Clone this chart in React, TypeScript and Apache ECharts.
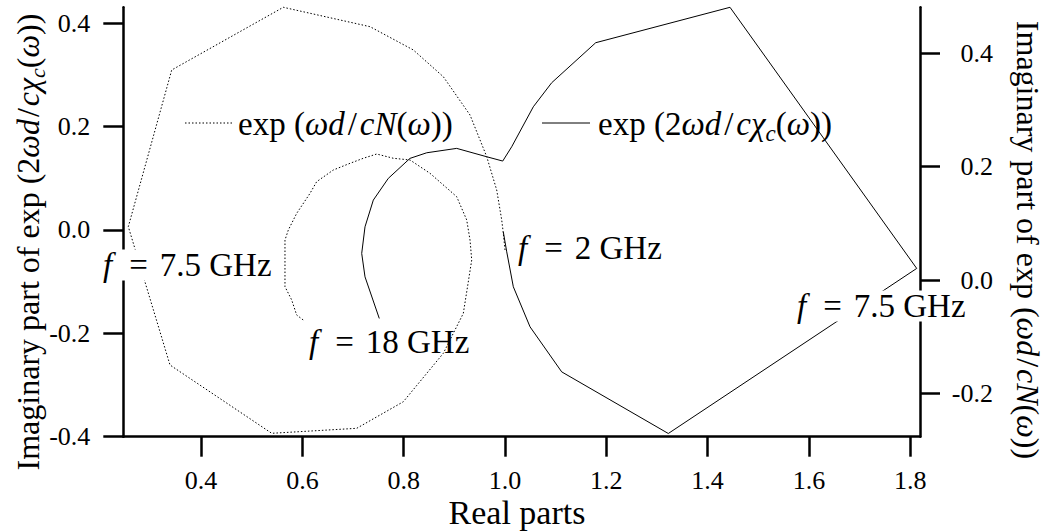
import React, { useEffect, useRef } from "react";
import * as echarts from "echarts";

// ---- data ----
// solid curve: exp(2ωd/cχc(ω)), left axis, from f = 2 GHz to f = 18 GHz
const solidX = [0.9966, 1.0034, 1.0164, 1.0494, 1.1119, 1.3224, 1.8128, 1.4442, 1.1791, 1.0922, 1.0559, 1.0132, 0.9955, 0.9639, 0.9046, 0.8454, 0.8124, 0.7696, 0.74, 0.7236, 0.7171, 0.7236, 0.7518];
const solidY = [-0.0037, -0.0424, -0.11, -0.1875, -0.2746, -0.3938, -0.0745, 0.4306, 0.3621, 0.2847, 0.2382, 0.1608, 0.1332, 0.1415, 0.1577, 0.1492, 0.1384, 0.0997, 0.0577, 0.006, -0.0455, -0.0908, -0.1713];
// dotted curve: exp(ωd/cN(ω)), right axis, from f = 2 GHz to f = 18 GHz
const dottedX = [1.0, 0.9966, 0.9935, 0.9836, 0.9639, 0.9309, 0.8782, 0.819, 0.7335, 0.5623, 0.342, 0.2563, 0.3386, 0.5394, 0.7072, 0.7992, 0.8782, 0.9177, 0.9343, 0.9309, 0.9244, 0.9046, 0.8519, 0.8124, 0.7795, 0.7467, 0.7203, 0.694, 0.661, 0.6282, 0.615, 0.5887, 0.5722, 0.5656, 0.5656, 0.5789, 0.5887, 0.6017];
const dottedY = [0.0529, 0.0829, 0.1059, 0.1588, 0.2176, 0.2912, 0.3587, 0.4059, 0.447, 0.4812, 0.3706, 0.0941, -0.15, -0.2705, -0.2617, -0.2148, -0.1293, -0.0588, 0.0353, 0.0706, 0.1059, 0.147, 0.1883, 0.2118, 0.2148, 0.2223, 0.2148, 0.2059, 0.1941, 0.1735, 0.1529, 0.1176, 0.0882, 0.0706, -0.0118, -0.0353, -0.0618, -0.0706];

const xTicks = [0.4, 0.6, 0.8, 1.0, 1.2, 1.4, 1.6, 1.8];
const leftTicks = [-0.4, -0.2, 0, 0.2, 0.4];
const rightTicks = [-0.2, 0, 0.2, 0.4];

const F = '"Liberation Serif", "Times New Roman", serif';

const richBase = (size: number, slashPad: number, eqPad: number, fPad: number, lh: number) => ({
  n: { fontFamily: F, fontSize: size, color: "#000", lineHeight: lh },
  i: { fontFamily: F, fontSize: size, color: "#000", fontStyle: "italic", lineHeight: lh },
  f: { fontFamily: F, fontSize: size, color: "#000", fontStyle: "italic", lineHeight: lh, padding: [0, fPad, 0, 0] },
  sl: { fontFamily: F, fontSize: size, color: "#000", lineHeight: lh, padding: [0, slashPad, 0, slashPad] },
  e: { fontFamily: F, fontSize: size, color: "#000", lineHeight: lh, padding: [0, eqPad, 0, eqPad] },
  s: { fontFamily: F, fontSize: Math.round(size * 0.7), color: "#000", fontStyle: "italic", verticalAlign: "bottom", lineHeight: Math.round(size * 0.7) },
});

export default function App() {
  const ref = useRef<HTMLDivElement>(null);
  useEffect(() => {
    if (!ref.current) return;
    const chart = echarts.init(ref.current, null, { renderer: "svg" });
    const fmt = (v: number) => (Math.abs(v) < 1e-9 ? "0.0" : v.toFixed(1));
    const axisLine = { show: true, onZero: false, lineStyle: { color: "#000", width: 2.5 } };
    const tick = (vals: number[]) => ({ show: true, inside: false, length: 20, lineStyle: { color: "#000", width: 2.5 }, customValues: vals });
    const titleRich = richBase(32, 2, 6, 3, 40);
    const legendRich = richBase(33, 3, 6, 3, 41);
    const noteRich = richBase(33, 2, 12, 5, 31);
    const noteStyle = (text: string, bg: boolean) => ({
      text,
      rich: noteRich,
      align: "left",
      verticalAlign: "middle",
      ...(bg ? { backgroundColor: "#fff", padding: [0, 2, 0, 0] } : {}),
    });
    chart.setOption({
      animation: false,
      grid: { left: 123.3, right: 128, top: 7.3, bottom: 94.3, containLabel: false },
      xAxis: {
        type: "value",
        min: 0.2464,
        max: 1.8193,
        axisLine,
        axisTick: tick(xTicks),
        axisLabel: { customValues: xTicks, formatter: fmt, fontFamily: F, fontSize: 26, color: "#000", margin: 31 },
        splitLine: { show: false },
      },
      yAxis: [
        {
          type: "value",
          position: "left",
          min: -0.4,
          max: 0.4306,
          axisLine,
          axisTick: tick(leftTicks),
          axisLabel: { customValues: leftTicks, formatter: fmt, fontFamily: F, fontSize: 26, color: "#000", margin: 33 },
          splitLine: { show: false },
        },
        {
          type: "value",
          position: "right",
          min: -0.2765,
          max: 0.4812,
          axisLine,
          axisTick: tick(rightTicks),
          axisLabel: { customValues: rightTicks, formatter: fmt, fontFamily: F, fontSize: 26, color: "#000", margin: 73, align: "right" },
          splitLine: { show: false },
        },
      ],
      series: [
        {
          name: "solid",
          type: "line",
          yAxisIndex: 0,
          symbol: "none",
          clip: false,
          data: solidX.map((x, i) => [x, solidY[i]]),
          lineStyle: { color: "#000", width: 1 },
          z: 2,
        },
        {
          name: "dotted",
          type: "line",
          yAxisIndex: 1,
          symbol: "none",
          clip: false,
          data: dottedX.map((x, i) => [x, dottedY[i]]),
          lineStyle: { color: "#000", width: 1, type: [1.5, 2] },
          z: 2,
        },
      ],
      graphic: [
        // axis titles
        {
          type: "text",
          x: 28,
          y: 242,
          rotation: Math.PI / 2,
          z: 50,
          style: {
            text: "{n|Imaginary part of exp (2}{i|ωd}{sl|/}{i|cχ}{s|c}{n|(}{i|ω}{n|))}",
            rich: titleRich,
            align: "center",
            verticalAlign: "middle",
          },
        },
        {
          type: "text",
          x: 1028,
          y: 240,
          rotation: -Math.PI / 2,
          z: 50,
          style: {
            text: "{n|Imaginary part of exp (}{i|ωd}{sl|/}{i|cN}{n|(}{i|ω}{n|))}",
            rich: titleRich,
            align: "center",
            verticalAlign: "middle",
          },
        },
        {
          type: "text",
          x: 517,
          y: 512,
          z: 50,
          style: { text: "Real parts", fontFamily: F, fontSize: 34, fill: "#000", align: "center", verticalAlign: "middle" },
        },
        // legend
        {
          type: "line",
          z: 50,
          shape: { x1: 185, y1: 123, x2: 233, y2: 123 },
          style: { stroke: "#000", lineWidth: 1, lineDash: [1.5, 2] },
        },
        {
          type: "text",
          x: 238,
          y: 124,
          z: 50,
          style: {
            text: "{n|exp (}{i|ωd}{sl|/}{i|cN}{n|(}{i|ω}{n|))}",
            rich: legendRich,
            align: "left",
            verticalAlign: "middle",
          },
        },
        {
          type: "line",
          z: 50,
          shape: { x1: 542, y1: 123, x2: 590, y2: 123 },
          style: { stroke: "#000", lineWidth: 1 },
        },
        {
          type: "text",
          x: 598,
          y: 124,
          z: 50,
          style: {
            text: "{n|exp (2}{i|ωd}{sl|/}{i|cχ}{s|c}{n|(}{i|ω}{n|))}",
            rich: legendRich,
            align: "left",
            verticalAlign: "middle",
          },
        },
        // frequency annotations
        { type: "text", x: 103, y: 265, z: 60, style: noteStyle("{f|f}{e|=}{n|7.5 GHz}", true) },
        { type: "text", x: 797, y: 306, z: 60, style: noteStyle("{f|f}{e|=}{n|7.5 GHz}", true) },
        { type: "text", x: 518, y: 248, z: 60, style: noteStyle("{f|f}{e|=}{n|2 GHz}", false) },
        { type: "text", x: 309, y: 342, z: 60, style: noteStyle("{f|f}{e|=}{n|18 GHz}", false) },
      ],
    });
    return () => chart.dispose();
  }, []);
  return <div ref={ref} style={{ position: "fixed", left: 0, top: 0, width: 1048, height: 531, background: "#fff" }} />;
}
